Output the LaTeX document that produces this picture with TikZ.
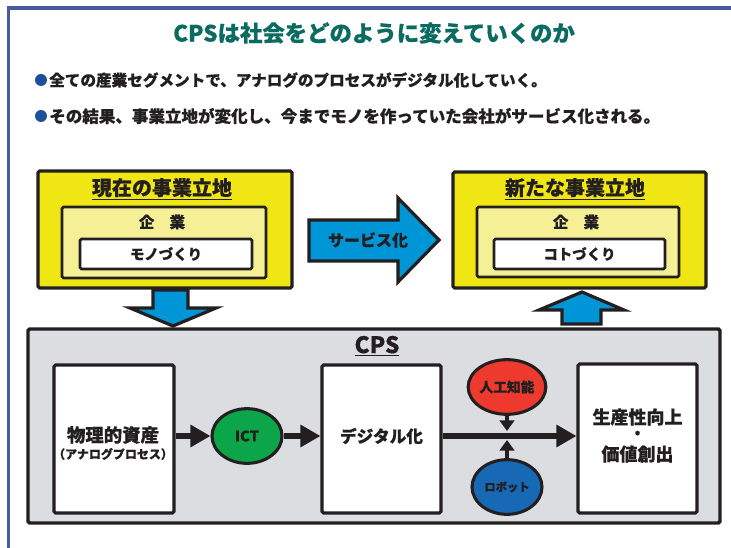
\documentclass[tikz,border=0pt]{standalone}
\usepackage{fontspec}
\setmainfont{Noto Sans CJK JP}[BoldFeatures={FakeBold=0.5}]
\usetikzlibrary{arrows.meta,fit,shapes.geometric}
\definecolor{frameblue}{HTML}{4A5AA0}
\definecolor{titleteal}{HTML}{0A6B60}
\definecolor{bulletblue}{HTML}{1F4E9C}
\definecolor{ink}{HTML}{231F20}
\definecolor{yel}{HTML}{F0E614}
\definecolor{lyel}{HTML}{F5EF96}
\definecolor{arrblue}{HTML}{0095D6}
\definecolor{cpsgray}{HTML}{DCDDE0}
\definecolor{ictgreen}{HTML}{0CA54A}
\definecolor{aired}{HTML}{EE3A2E}
\definecolor{robblue}{HTML}{1769B5}
\newcommand{\fsz}[1]{\fontsize{#1}{1.15\dimexpr #1\relax}\selectfont}
\begin{document}
\begin{tikzpicture}[x=0.75pt,y=-0.75pt,font=\bfseries,text=ink,
  box/.style={draw=ink,inner sep=0pt,rounded corners=1.2pt,line width=2.2pt},
  ybox/.style={box,fill=yel,line width=2.4pt},
  lybox/.style={box,fill=lyel,line width=2pt},
  wbox/.style={box,fill=white,line width=2pt},
  cbox/.style={box,fill=white,line width=2.3pt},
  oval/.style={ellipse,draw=ink,line width=2.3pt,inner sep=0pt,minimum width=52.5pt,minimum height=41pt},
  bigarrow/.style={draw=ink,fill=arrblue,line width=2.4pt},
  conn/.style={draw=ink,line width=5pt,-{Triangle[length=15pt,width=16pt]}},
  sconn/.style={draw=ink,line width=3.5pt,-{Triangle[length=8pt,width=11pt]}}]
\useasboundingbox (0,0) rectangle (731,548);
% frame
\draw[frameblue,line width=2.3pt] (731,8) -- (8.5,8) -- (8.5,548);
% title
\node[text=titleteal,font=\bfseries\fsz{16.8pt}] (title) at (374,33) {CPSは社会をどのように変えていくのか};
% bullets
\fill[bulletblue] (41,80) circle (6);
\node[anchor=west,font=\bfseries\fsz{11.7pt},inner sep=0pt] (b1) at (49,80) {全ての産業セグメントで、アナログのプロセスがデジタル化していく。};
\fill[bulletblue] (41,116) circle (6);
\node[anchor=west,font=\bfseries\fsz{12.4pt},inner sep=0pt] (b2) at (49,116) {その結果、事業立地が変化し、今までモノを作っていた会社がサービス化される。};
% left yellow
\node[ybox,fit={(38,171) (292,288)}] (y1) {};
\node[lybox,fit={(62,207) (266,278)}] (ly1) {};
\node[wbox,fit={(80,239) (252,269)}] (w1) {};
\node[font=\bfseries\fsz{15pt}] (t1) at (162,189) {\underline{現在の事業立地}};
\node[font=\bfseries\fsz{11.5pt}] (k1) at (162,222) {企　業};
\node[font=\bfseries\fsz{10.8pt}] (m1) at (w1) {モノづくり};
% right yellow
\node[ybox,fit={(453,172) (706,288)}] (y2) {};
\node[lybox,fit={(477,207) (679,277)}] (ly2) {};
\node[wbox,fit={(494,239) (665,269)}] (w2) {};
\node[font=\bfseries\fsz{15pt}] (t2) at (575,189) {\underline{新たな事業立地}};
\node[font=\bfseries\fsz{11.5pt}] (k2) at (576,222) {企　業};
\node[font=\bfseries\fsz{10.8pt}] (m2) at (w2) {コトづくり};
% service arrow
\draw[bigarrow] (309,220) -- (398,220) -- (398,198) -- (439,240) -- (398,282) -- (398,261) -- (309,261) -- cycle;
\node[font=\bfseries\fsz{12pt}] (sv) at (368,240) {サービス化};
% down / up arrows
\draw[bigarrow] (153,290) -- (188,290) -- (188,308) -- (216,308) -- (173,326) -- (130,308) -- (153,308) -- cycle;
\draw[bigarrow] (582,292) -- (624,310) -- (601,310) -- (601,324) -- (562,324) -- (562,310) -- (539,310) -- cycle;
% CPS box
\node[box,fill=cpsgray,line width=2.6pt,fit={(28,329) (720,523)}] (cps) {};
\node[font=\bfseries\fsz{17pt}] (cpst) at (377,346) {\underline{CPS}};
% inner boxes
\node[cbox,fit={(54,365) (174,513)}] (lbox) {};
\node[font=\bfseries\fsz{13.8pt},inner sep=0pt] (ltext1) at (113,435) {物理的資産};
\node[font=\bfseries\fsz{9pt},inner sep=0pt] (ltext2) at (113,454) {（アナログプロセス）};
\node[cbox,fit={(322,365) (441,513)}] (mbox) {};
\node[font=\bfseries\fsz{12.5pt}] (mtext) at (381.5,436) {デジタル化};
\node[cbox,fit={(578,364) (697,513)}] (rbox) {};
\node[font=\bfseries\fsz{13.5pt},inner sep=0pt] (rtext1) at (637.5,417) {生産性向上};
\node[font=\bfseries\fsz{12pt},inner sep=0pt] (rtext2) at (637.5,435) {・};
\node[font=\bfseries\fsz{13.5pt},inner sep=0pt] (rtext3) at (637.5,454) {価値創出};
% ellipses
\node[oval,fill=ictgreen,font=\bfseries\fsz{11pt}] (ict) at (247,436) {ICT};
\node[oval,fill=aired,font=\bfseries\fsz{10.3pt}] (ai) at (507,387) {人工知能};
\node[oval,fill=robblue,font=\bfseries\fsz{8.5pt}] (rob) at (507,487) {ロボット};
% connectors
\coordinate (jt) at (507,431);
\coordinate (jb) at (507,440);
\draw[conn] (lbox.east |- ict.west) -- (ict.west);
\draw[conn] (ict.east) -- (mbox.west |- ict.east);
\draw[conn] (mbox.east |- ict.east) -- (rbox.west |- ict.east);
\draw[sconn] (ai.south) -- (jt);
\draw[sconn] (rob.north) -- (jb);
\end{tikzpicture}
\end{document}
